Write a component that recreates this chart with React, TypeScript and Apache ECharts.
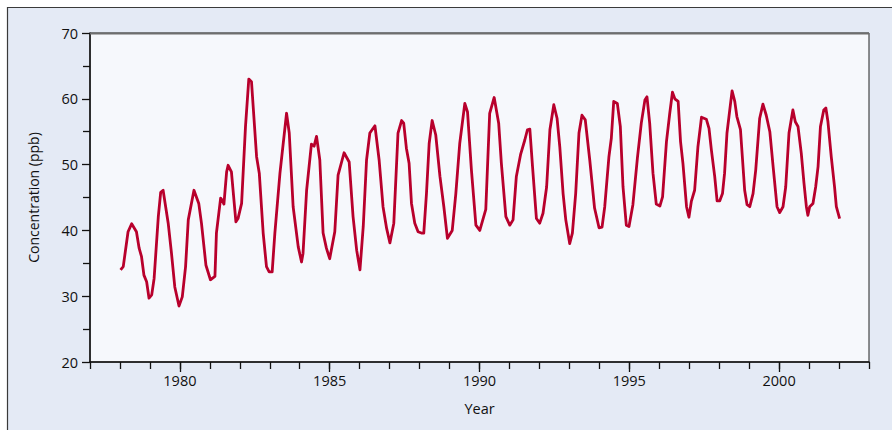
import React, { useEffect, useRef } from "react";
import * as echarts from "echarts";

const years: number[] = [
  1978.02, 1978.11, 1978.27, 1978.39, 1978.55, 1978.64, 1978.72, 1978.8, 1978.89, 1978.97,
  1979.06, 1979.14, 1979.28, 1979.36, 1979.44, 1979.61, 1979.72, 1979.83, 1979.97,
  1980.08, 1980.19, 1980.28, 1980.47, 1980.63, 1980.72, 1980.87,
  1981.02, 1981.17, 1981.22, 1981.36, 1981.41, 1981.47, 1981.56, 1981.61, 1981.72, 1981.87, 1981.94,
  1982.06, 1982.19, 1982.3, 1982.39, 1982.56, 1982.65, 1982.78, 1982.89, 1982.98,
  1983.08, 1983.17, 1983.34, 1983.56, 1983.65, 1983.78, 1983.95,
  1984.06, 1984.11, 1984.23, 1984.39, 1984.48, 1984.56, 1984.67, 1984.78, 1984.89,
  1985.0, 1985.17, 1985.28, 1985.48, 1985.65, 1985.78, 1985.9,
  1986.01, 1986.12, 1986.23, 1986.34, 1986.51, 1986.65, 1986.78, 1986.9,
  1987.01, 1987.14, 1987.28, 1987.4, 1987.47, 1987.56, 1987.65, 1987.73, 1987.84, 1987.95,
  1988.06, 1988.14, 1988.23, 1988.32, 1988.42, 1988.54, 1988.68, 1988.81, 1988.93,
  1989.09, 1989.21, 1989.34, 1989.51, 1989.6, 1989.73, 1989.88,
  1990.01, 1990.21, 1990.34, 1990.49, 1990.64, 1990.73, 1990.88,
  1991.01, 1991.12, 1991.23, 1991.37, 1991.51, 1991.6, 1991.68, 1991.77, 1991.9,
  1992.01, 1992.12, 1992.24, 1992.35, 1992.48, 1992.59, 1992.68, 1992.79, 1992.88,
  1993.01, 1993.1, 1993.21, 1993.32, 1993.42, 1993.53, 1993.68, 1993.84, 1993.99,
  1994.09, 1994.18, 1994.32, 1994.4, 1994.48, 1994.6, 1994.7, 1994.79, 1994.9, 1994.99,
  1995.12, 1995.27, 1995.4, 1995.52, 1995.59, 1995.68, 1995.79, 1995.9,
  1996.02, 1996.11, 1996.24, 1996.35, 1996.44, 1996.52, 1996.63, 1996.71, 1996.79, 1996.91, 1996.99,
  1997.07, 1997.18, 1997.29, 1997.41, 1997.57, 1997.66, 1997.74, 1997.85, 1997.93,
  1998.02, 1998.11, 1998.18, 1998.26, 1998.43, 1998.52, 1998.59, 1998.71, 1998.78, 1998.85, 1998.93,
  1999.02, 1999.13, 1999.22, 1999.35, 1999.46, 1999.57, 1999.69, 1999.8, 1999.93,
  2000.02, 2000.13, 2000.22, 2000.33, 2000.46, 2000.54, 2000.63, 2000.74, 2000.83, 2000.91, 2000.96,
  2001.02, 2001.13, 2001.22, 2001.3, 2001.38, 2001.49, 2001.56, 2001.63, 2001.74, 2001.85, 2001.91,
  2002.02,
];

const concentration: number[] = [
  34.0, 34.5, 39.8, 41.0, 39.8, 37.3, 36.0, 33.2, 32.2, 29.7,
  30.2, 32.7, 42.1, 45.8, 46.1, 41.1, 36.5, 31.4, 28.5,
  29.9, 34.5, 41.6, 46.1, 44.1, 41.1, 34.7,
  32.5, 33.0, 39.6, 44.9, 44.6, 44.0, 48.9, 49.9, 48.9, 41.3, 41.8,
  44.1, 55.8, 63.0, 62.6, 51.2, 48.7, 39.6, 34.5, 33.7,
  33.7, 39.6, 48.7, 57.8, 54.8, 43.6, 37.5,
  35.2, 36.5, 46.1, 53.1, 52.8, 54.3, 50.7, 39.6, 37.3,
  35.7, 39.8, 48.4, 51.8, 50.4, 42.1, 37.0,
  34.0, 40.6, 50.7, 54.8, 55.9, 50.7, 43.6, 40.3,
  38.1, 41.1, 54.8, 56.7, 56.3, 52.5, 50.2, 44.1, 41.1, 39.8,
  39.6, 39.6, 45.6, 53.2, 56.7, 54.5, 48.2, 43.6, 38.8,
  40.0, 45.6, 53.2, 59.3, 58.0, 49.2, 40.8,
  40.0, 43.2, 57.8, 60.2, 56.3, 50.2, 42.1,
  40.8, 41.6, 48.2, 51.5, 53.7, 55.3, 55.4, 49.7, 41.8,
  41.1, 42.6, 46.6, 55.3, 59.1, 57.0, 52.7, 45.6, 41.6,
  38.0, 39.6, 45.6, 54.8, 57.5, 56.8, 50.7, 43.4, 40.4,
  40.5, 43.6, 51.2, 54.0, 59.6, 59.3, 55.8, 46.6, 40.8, 40.6,
  43.9, 51.0, 56.3, 59.8, 60.3, 56.3, 48.7, 44.0,
  43.7, 45.1, 53.5, 57.8, 61.0, 60.0, 59.6, 53.5, 50.2, 43.6, 42.0,
  44.4, 46.1, 52.7, 57.2, 56.9, 55.5, 52.2, 48.2, 44.5,
  44.5, 45.6, 48.7, 54.8, 61.2, 59.6, 57.3, 55.3, 50.7, 46.1, 43.9,
  43.6, 45.6, 49.2, 57.0, 59.2, 57.5, 55.0, 49.7, 43.6,
  42.7, 43.6, 46.6, 54.8, 58.3, 56.5, 55.8, 51.7, 47.2, 43.6, 42.3,
  43.6, 44.1, 46.6, 49.7, 55.8, 58.3, 58.6, 56.5, 51.2, 46.6, 43.6,
  41.8,
];

const xLabelYears: number[] = [1980, 1985, 1990, 1995, 2000];
const xMin = 1977;
const xMax = 2003;
const yMin = 20;
const yMax = 70;

export default function App() {
  const ref = useRef<HTMLDivElement>(null);

  useEffect(() => {
    if (!ref.current) return;
    const chart = echarts.init(ref.current, undefined, { renderer: "svg" });
    const font = "'Open Sans', 'Noto Sans', sans-serif";
    const textColor = "#111111";

    chart.setOption({
      animation: false,
      backgroundColor: "#ffffff",
      graphic: [
        {
          type: "rect",
          z: -10,
          silent: true,
          shape: { x: 7.5, y: 7.5, width: 900, height: 500 },
          style: { fill: "#e4eaf5", stroke: "#3a3a3a", lineWidth: 1.2 },
        },
        {
          type: "line",
          z: 10,
          silent: true,
          shape: { x1: 90, y1: 33.5, x2: 869, y2: 33.5 },
          style: { stroke: "#6e6e6e", lineWidth: 2 },
        },
      ],
      grid: {
        left: 90,
        top: 33,
        right: 23,
        bottom: 68,
        show: true,
        backgroundColor: "#f6f8fc",
        borderColor: "#222",
        borderWidth: 1,
      },
      xAxis: [
        {
          type: "value",
          min: xMin,
          max: xMax,
          interval: 1,
          name: "Year",
          nameLocation: "middle",
          nameGap: 39,
          nameTextStyle: { fontFamily: font, fontSize: 14.5, color: textColor },
          axisLine: { show: true, lineStyle: { color: "#111", width: 1.5 } },
          axisTick: {
            show: true,
            inside: false,
            length: 10,
            customValues: xLabelYears,
            lineStyle: { color: "#111", width: 1.3 },
          },
          axisLabel: {
            show: true,
            margin: 11,
            customValues: xLabelYears,
            fontFamily: font,
            fontSize: 14.5,
            color: textColor,
            formatter: (v: number) => String(v),
          },
          splitLine: { show: false },
        },
        {
          type: "value",
          min: xMin,
          max: xMax,
          interval: 1,
          position: "bottom",
          axisLine: { show: false },
          axisTick: { show: true, length: 7, lineStyle: { color: "#111", width: 1.3 } },
          axisLabel: { show: false },
          splitLine: { show: false },
        },
      ],
      yAxis: {
        type: "value",
        min: yMin,
        max: yMax,
        interval: 10,
        name: "Concentration (ppb)",
        nameLocation: "middle",
        nameGap: 50,
        nameTextStyle: { fontFamily: font, fontSize: 14, color: textColor },
        axisLine: { show: true, lineStyle: { color: "#111", width: 1.5 } },
        axisTick: { show: true, length: 8, lineStyle: { color: "#111", width: 1.3 } },
        minorTick: { show: true, splitNumber: 2, length: 7, lineStyle: { color: "#111", width: 1.3 } },
        axisLabel: { margin: 12, fontFamily: font, fontSize: 14.5, color: textColor },
        splitLine: { show: false },
        minorSplitLine: { show: false },
      },
      series: [
        {
          type: "line",
          xAxisIndex: 0,
          data: years.map((y, i) => [y, concentration[i]]),
          showSymbol: false,
          symbol: "none",
          lineStyle: { color: "#b8002c", width: 2.8, join: "round" },
          clip: true,
        },
      ],
    });

    return () => chart.dispose();
  }, []);

  return (
    <div
      ref={ref}
      style={{ position: "fixed", left: 0, top: 0, width: 892, height: 430 }}
    />
  );
}
